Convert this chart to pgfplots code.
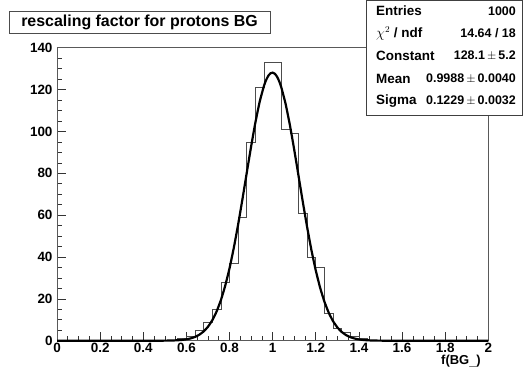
\documentclass[border=0pt]{standalone}
\usepackage{fontspec}
\setmainfont{Liberation Sans}
\usepackage{pgfplots}
\pgfplotsset{compat=1.18}
\begin{document}
\begin{tikzpicture}[x=1bp,y=1bp]
\useasboundingbox (0,0) rectangle (524,368);
\begin{axis}[
  at={(57bp,27.3bp)}, anchor=south west,
  scale only axis, width=431.3bp, height=293bp,
  xmin=0, xmax=2, ymin=0, ymax=140,
  clip=false,
  axis line style={black!65, line width=0.6bp},
  xtick={0,0.2,0.4,0.6,0.8,1,1.2,1.4,1.6,1.8,2},
  xticklabels={0,0.2,0.4,0.6,0.8,1,1.2,1.4,1.6,1.8,2},
  ytick={0,20,40,60,80,100,120,140},
  yticklabels={0,20,40,60,80,100,120,140},
  minor x tick num=3, minor y tick num=3,
  tick align=inside, xtick pos=bottom, ytick pos=left,
  major tick length=9bp, minor tick length=5bp,
  tick style={black!80, line width=0.6bp},
  ticklabel style={font=\bfseries\fontsize{13.5}{13.5}\selectfont},
  xticklabel style={yshift=-0.5bp, inner sep=2pt},
  yticklabel style={xshift=-1bp},
]
\addplot[const plot, black!70, line width=0.7bp] coordinates {
(0,0) (0.52,0) (0.56,1) (0.60,2) (0.64,5) (0.68,9) (0.72,15) (0.76,28) (0.80,37) (0.84,59) (0.88,95) (0.92,121) (0.96,133) (1.00,133) (1.04,101) (1.08,99) (1.12,61) (1.16,40) (1.20,35) (1.24,13) (1.28,6) (1.32,4) (1.36,2) (1.40,1) (1.44,0) (2,0)
};
\addplot[black, line width=2.2bp, smooth, tension=0.3] coordinates {
(0,0) (0.46,0.01) (0.48,0.02) (0.50,0.03) (0.52,0.07) (0.54,0.12) (0.56,0.22) (0.58,0.39) (0.60,0.66) (0.62,1.11) (0.64,1.81) (0.66,2.87) (0.68,4.43) (0.70,6.67) (0.72,9.77) (0.74,13.95) (0.76,19.40) (0.78,26.26) (0.80,34.62) (0.82,44.45) (0.84,55.59) (0.86,67.69) (0.88,80.29) (0.90,92.73) (0.92,104.30) (0.94,114.25) (0.96,121.87) (0.97,124.63) (0.98,126.61) (0.99,127.77) (1.00,128.09) (1.01,127.57) (1.02,126.21) (1.03,124.04) (1.04,121.10) (1.06,113.16) (1.08,102.98) (1.10,91.27) (1.12,78.77) (1.14,66.21) (1.16,54.20) (1.18,43.20) (1.20,33.54) (1.22,25.36) (1.24,18.67) (1.26,13.39) (1.28,9.35) (1.30,6.36) (1.32,4.21) (1.34,2.72) (1.36,1.71) (1.38,1.04) (1.40,0.62) (1.42,0.36) (1.44,0.20) (1.46,0.11) (1.48,0.06) (1.50,0.03) (1.52,0.02) (1.54,0.01) (2,0)
};
\end{axis}
% x axis title
\node[anchor=south east, font=\bfseries\fontsize{13}{13}\selectfont, inner sep=0pt] at (481,0.5) {f(BG\raisebox{-1bp}{\_})};
% title box
\draw[black!70, line width=0.8bp, fill=white] (9,335) rectangle (270,357);
\node[font=\bfseries\fontsize{16}{16}\selectfont, inner sep=0pt] at (139.5,346) {rescaling factor for protons BG};
% stats box
\draw[black!75, line width=0.7bp, fill=white] (366,253) rectangle (522,367.5);
\begin{scope}[every node/.style={inner sep=0pt, font=\bfseries\fontsize{13.5}{13.5}\selectfont}]
\node[anchor=west] at (376,357) {Entries};
\node[anchor=west] at (376,334.5) {{\mdseries$\chi^{2}$} / ndf};
\node[anchor=west] at (376,312) {Constant};
\node[anchor=west] at (376,289.5) {Mean};
\node[anchor=west] at (376,267) {Sigma};
\end{scope}
\begin{scope}[every node/.style={inner sep=0pt, anchor=east, font=\bfseries\fontsize{12.5}{12.5}\selectfont}]
\node at (516,357) {1000};
\node at (516,334.5) {14.64 / 18};
\node at (516,312) {128.1\,{\mdseries$\pm$}\,5.2};
\node at (516,289.5) {0.9988\,{\mdseries$\pm$}\,0.0040};
\node at (516,267) {0.1229\,{\mdseries$\pm$}\,0.0032};
\end{scope}
\end{tikzpicture}
\end{document}
